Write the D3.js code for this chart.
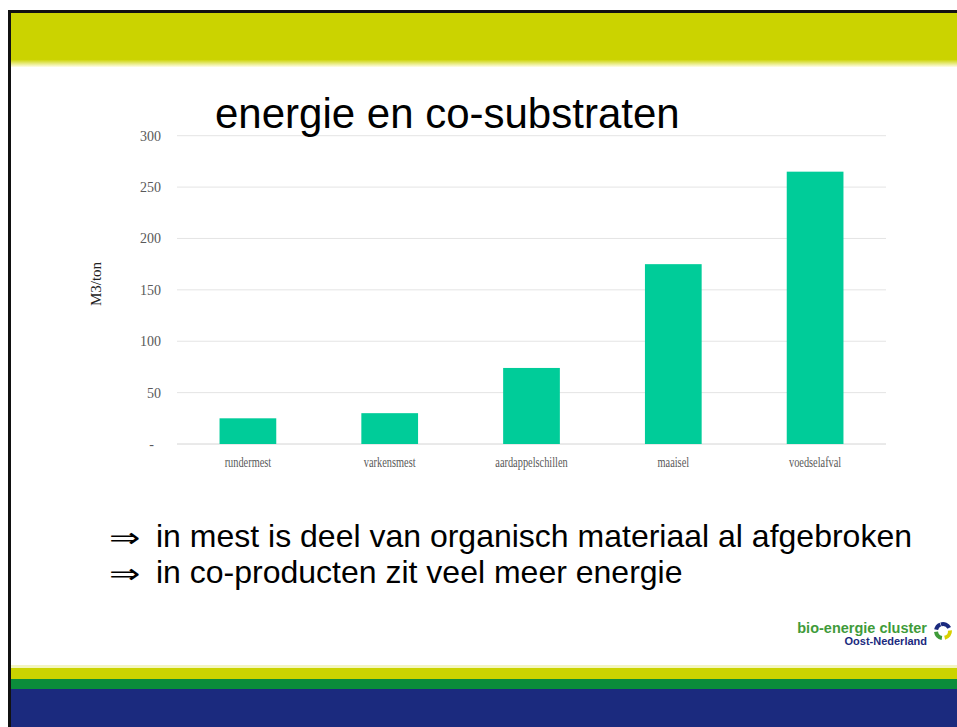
<!DOCTYPE html>
<html>
<head>
<meta charset="utf-8">
<script src="https://cdn.jsdelivr.net/npm/d3@7"></script>
<style>
  html, body { margin: 0; padding: 0; background: #fff; }
  svg { display: block; }
</style>
</head>
<body>
<svg id="chart" width="957" height="727"></svg>
<script>
"use strict";

const categories = ["rundermest", "varkensmest", "aardappelschillen", "maaisel", "voedselafval"];
const values = [25, 30, 74, 175, 265];
const yTicks = [0, 50, 100, 150, 200, 250, 300];
const bullets = [
  "in mest is deel van organisch materiaal al afgebroken",
  "in co-producten zit veel meer energie"
];

const colors = {
  bar: "#00cc99",
  grid: "#e4e4e4",
  axis: "#d4d4d4",
  tick: "#595959",
  lime: "#cbd300",
  green: "#0b8c3b",
  blue: "#1b2a7e"
};

const svg = d3.select("#chart");
const defs = svg.append("defs");

// slide frame
const topGrad = defs.append("linearGradient")
  .attr("id", "topGrad").attr("x1", 0).attr("x2", 0).attr("y1", 0).attr("y2", 1);
topGrad.append("stop").attr("offset", "0%").attr("stop-color", colors.lime);
topGrad.append("stop").attr("offset", "86%").attr("stop-color", colors.lime);
topGrad.append("stop").attr("offset", "100%").attr("stop-color", "#fffde8");

svg.append("rect").attr("x", 8).attr("y", 13).attr("width", 949).attr("height", 54)
  .attr("fill", "url(#topGrad)");
svg.append("rect").attr("x", 8).attr("y", 665).attr("width", 949).attr("height", 4)
  .attr("fill", "#f3f5c0");
svg.append("rect").attr("x", 8).attr("y", 668).attr("width", 949).attr("height", 11)
  .attr("fill", colors.lime);
svg.append("rect").attr("x", 8).attr("y", 679).attr("width", 949).attr("height", 10)
  .attr("fill", colors.green);
svg.append("rect").attr("x", 8).attr("y", 689).attr("width", 949).attr("height", 38)
  .attr("fill", colors.blue);
svg.append("rect").attr("x", 8).attr("y", 10).attr("width", 949).attr("height", 3).attr("fill", "#111");
svg.append("rect").attr("x", 8).attr("y", 10).attr("width", 3).attr("height", 717).attr("fill", "#111");

// chart
const x = d3.scaleBand().domain(categories).range([177, 886]);
const y = d3.scaleLinear().domain([0, 300]).range([444, 135.7]);
const barW = x.bandwidth() * 0.4;

svg.append("g")
  .selectAll("line")
  .data(yTicks)
  .join("line")
  .attr("x1", 177).attr("x2", 886)
  .attr("y1", d => y(d)).attr("y2", d => y(d))
  .attr("stroke", d => d === 0 ? colors.axis : colors.grid)
  .attr("stroke-width", 1);

svg.append("g")
  .style("font-family", "'Liberation Serif', 'Times New Roman', serif")
  .style("font-size", "14px")
  .attr("fill", colors.tick)
  .attr("text-anchor", "end")
  .selectAll("text")
  .data(yTicks)
  .join("text")
  .attr("x", d => d === 0 ? 154 : 161)
  .attr("y", d => y(d))
  .attr("dy", "0.35em")
  .text(d => d === 0 ? "-" : d);

svg.append("text")
  .attr("transform", "translate(101,284) rotate(-90)")
  .attr("text-anchor", "middle")
  .style("font-family", "'Liberation Serif', 'Times New Roman', serif")
  .style("font-size", "15px")
  .attr("fill", "#222")
  .text("M3/ton");

svg.append("g")
  .selectAll("rect")
  .data(values)
  .join("rect")
  .attr("x", (d, i) => x(categories[i]) + (x.bandwidth() - barW) / 2)
  .attr("width", barW)
  .attr("y", d => y(d))
  .attr("height", d => y(0) - y(d))
  .attr("fill", colors.bar);

svg.append("g")
  .style("font-family", "'Liberation Serif', 'Times New Roman', serif")
  .style("font-size", "14px")
  .attr("fill", colors.tick)
  .attr("text-anchor", "middle")
  .selectAll("text")
  .data(categories)
  .join("text")
  .attr("transform", d => `translate(${x(d) + x.bandwidth() / 2},467) scale(0.74,1)`)
  .text(d => d);

// title
svg.append("text")
  .attr("x", 215).attr("y", 128)
  .style("font-family", "'Liberation Sans', Arial, sans-serif")
  .style("font-size", "42px")
  .attr("fill", "#000")
  .text("energie en co-substraten");

// bullet lines
const bl = svg.append("g")
  .style("font-family", "'Liberation Sans', Arial, sans-serif")
  .style("font-size", "32px")
  .attr("fill", "#000")
  .selectAll("g")
  .data(bullets)
  .join("g")
  .attr("transform", (d, i) => `translate(0,${547 + i * 36})`);
bl.append("text")
  .attr("transform", "translate(109,0) scale(1.25,0.9)")
  .style("font-family", "'DejaVu Sans', sans-serif")
  .style("font-size", "30px").text("\u21d2");
bl.append("text").attr("x", 156).attr("y", 0).text(d => d);

// logo
svg.append("text")
  .attr("x", 927).attr("y", 633).attr("text-anchor", "end")
  .style("font-family", "'Liberation Sans', Arial, sans-serif")
  .style("font-size", "14.5px").style("font-weight", "bold")
  .attr("fill", "#3f9b3a")
  .text("bio-energie cluster");
svg.append("text")
  .attr("x", 927).attr("y", 645).attr("text-anchor", "end")
  .style("font-family", "'Liberation Sans', Arial, sans-serif")
  .style("font-size", "11px").style("font-weight", "bold")
  .attr("fill", "#1b2a7e")
  .text("Oost-Nederland");

const arc = d3.arc().innerRadius(5).outerRadius(9);
const logoArcs = [
  { s: -0.3, e: 1.1, c: "#1b2a7e" },
  { s: 1.5, e: 2.9, c: "#d8d000" },
  { s: 3.3, e: 4.6, c: "#3f9b3a" },
  { s: 4.9, e: 5.9, c: "#1b2a7e" }
];
svg.append("g")
  .attr("transform", "translate(943,631)")
  .selectAll("path")
  .data(logoArcs)
  .join("path")
  .attr("d", d => arc({ startAngle: d.s, endAngle: d.e }))
  .attr("fill", d => d.c);
</script>
</body>
</html>
